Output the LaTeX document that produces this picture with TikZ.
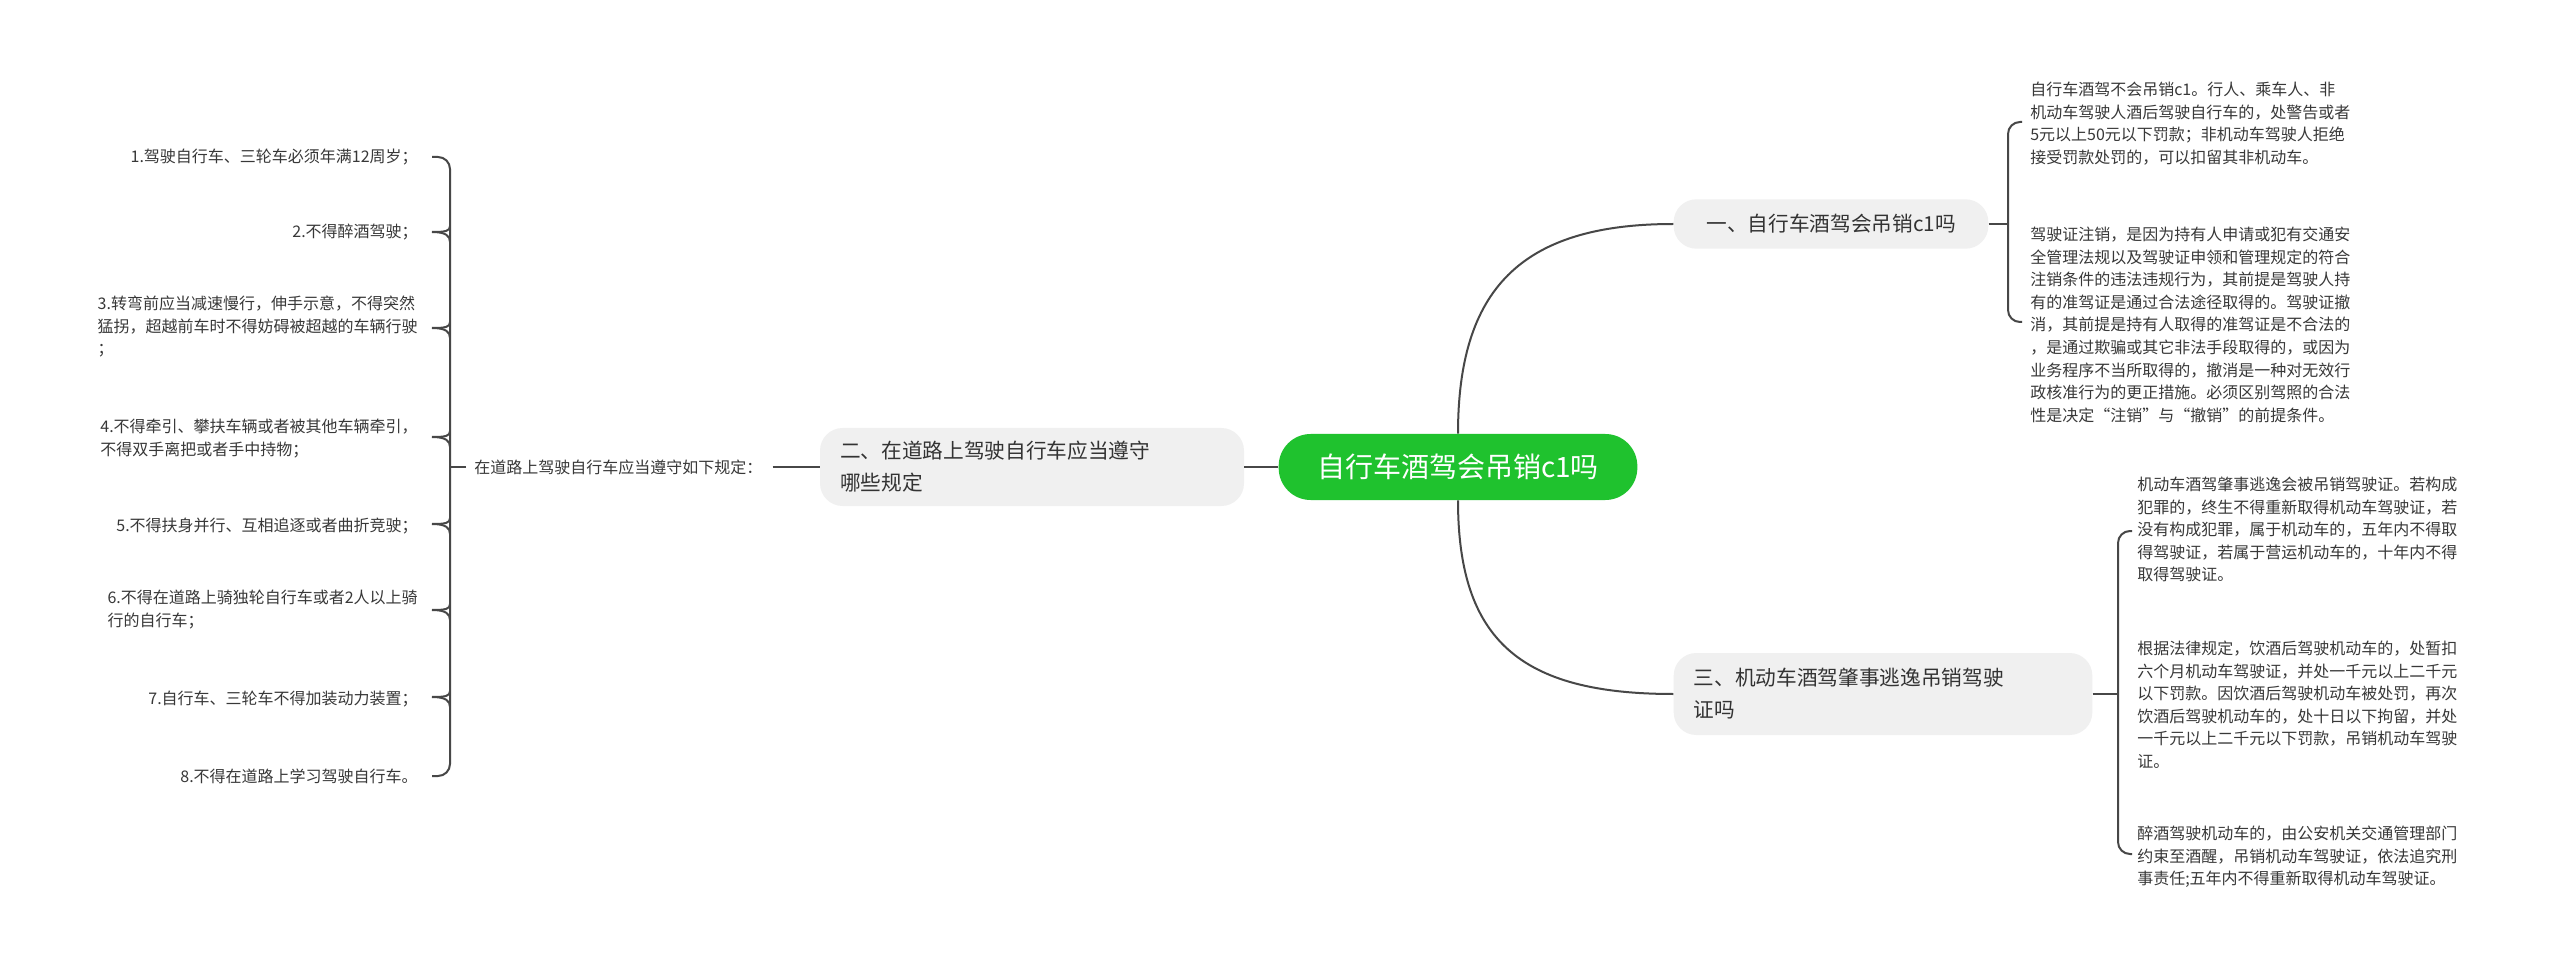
\documentclass[tikz,border=0pt]{standalone}
\usepackage{fontspec}
\setmainfont{Noto Sans CJK SC}
\begin{document}
\begin{tikzpicture}[x=0.75pt,y=-0.75pt,
  ln/.style={draw=black!72,line width=1.5pt},
  br/.style={ln,rounded corners=9pt},
  leaf/.style={inner sep=0pt,font=\fontsize{12}{16.9}\selectfont,text=black!78},
  leafl/.style={leaf,anchor=north west,align=left},
  leafr/.style={leaf,anchor=north east,align=right},
  sub/.style={fill=black!6,rounded corners=17pt,inner sep=0pt,font=\fontsize{15.5}{24}\selectfont,text=black!80,align=left}]
\useasboundingbox (0,0) rectangle (2560,973);
\fill[white] (0,0) rectangle (2560,973);
% central
\node[fill={rgb,255:red,31;green,194;blue,46},rounded corners=24pt,minimum width=269pt,minimum height=49.5pt,text=white,font=\fontsize{21}{24}\selectfont] (c) at (1458,467) {自行车酒驾会吊销c1吗};
% branches
\node[sub,minimum width=236pt,minimum height=37pt] (b1) at (1831,224) {一、自行车酒驾会吊销c1吗};
\node[sub,minimum width=318pt,minimum height=58.5pt,text width=288pt] (b2) at (1032,467) {二、在道路上驾驶自行车应当遵守\\哪些规定};
\node[sub,minimum width=314pt,minimum height=61.5pt,text width=284pt] (b3) at (1883,694) {三、机动车酒驾肇事逃逸吊销驾驶\\证吗};
\draw[ln] (c.north) .. controls (1458,290) and (1520,224) .. (b1.west);
\draw[ln] (c.south) .. controls (1458,640) and (1520,694) .. (b3.west);
\draw[ln] (c.west) -- (b2.east);
% branch 1 leaves
\coordinate (k1) at (2008,224);
\draw[ln] (b1.east) -- (k1);
\draw[br] (2022,122) -- (2008,122) -- (2008,322) -- (2022,322);
\node[leafl] (t1a) at (2030,82) {自行车酒驾不会吊销c1。行人、乘车人、非\\机动车驾驶人酒后驾驶自行车的，处警告或者\\5元以上50元以下罚款；非机动车驾驶人拒绝\\接受罚款处罚的，可以扣留其非机动车。};
\node[leafl] (t1b) at (2030,227) {驾驶证注销，是因为持有人申请或犯有交通安\\全管理法规以及驾驶证申领和管理规定的符合\\注销条件的违法违规行为，其前提是驾驶人持\\有的准驾证是通过合法途径取得的。驾驶证撤\\消，其前提是持有人取得的准驾证是不合法的\\，是通过欺骗或其它非法手段取得的，或因为\\业务程序不当所取得的，撤消是一种对无效行\\政核准行为的更正措施。必须区别驾照的合法\\性是决定“注销”与“撤销”的前提条件。};
% branch 3 leaves
\coordinate (k3) at (2118,694);
\draw[ln] (b3.east) -- (k3);
\draw[br] (2132,531) -- (2118,531) -- (2118,854) -- (2132,854);
\node[leafl] (t3a) at (2137,477) {机动车酒驾肇事逃逸会被吊销驾驶证。若构成\\犯罪的，终生不得重新取得机动车驾驶证，若\\没有构成犯罪，属于机动车的，五年内不得取\\得驾驶证，若属于营运机动车的，十年内不得\\取得驾驶证。};
\node[leafl] (t3b) at (2137,641) {根据法律规定，饮酒后驾驶机动车的，处暂扣\\六个月机动车驾驶证，并处一千元以上二千元\\以下罚款。因饮酒后驾驶机动车被处罚，再次\\饮酒后驾驶机动车的，处十日以下拘留，并处\\一千元以上二千元以下罚款，吊销机动车驾驶\\证。};
\node[leafl] (t3c) at (2137,826) {醉酒驾驶机动车的，由公安机关交通管理部门\\约束至酒醒，吊销机动车驾驶证，依法追究刑\\事责任;五年内不得重新取得机动车驾驶证。};
% branch 2
\node[leaf,anchor=west] (lab) at (474,467) {在道路上驾驶自行车应当遵守如下规定：};
\draw[ln] (lab.east) ++(10,0) coordinate (k2a) -- (b2.west);
\draw[ln] (lab.west) ++(-8,0) coordinate (k2b) -- (450,467);
\draw[br] (432,157) -- (450,157) -- (450,776) -- (432,776);
\foreach \y in {234,330,439,526,612,699}{
  \draw[ln] (432,\y-2) .. controls (446,\y-2) and (450,\y+2) .. (450,\y+8);
  \draw[ln] (450,\y-8) .. controls (450,\y-3) and (446,\y-2) .. (432,\y-2);
}
\node[leaf,anchor=east] (i1) at (418,157) {1.驾驶自行车、三轮车必须年满12周岁；};
\node[leaf,anchor=east] (i2) at (418,232) {2.不得醉酒驾驶；};
\node[leafr,align=left] (i3) at (418,296) {3.转弯前应当减速慢行，伸手示意，不得突然\\猛拐，超越前车时不得妨碍被超越的车辆行驶\\；};
\node[leafr,align=left] (i4) at (418,419) {4.不得牵引、攀扶车辆或者被其他车辆牵引，\\不得双手离把或者手中持物；};
\node[leaf,anchor=east] (i5) at (418,526) {5.不得扶身并行、互相追逐或者曲折竞驶；};
\node[leafr,align=left] (i6) at (418,590) {6.不得在道路上骑独轮自行车或者2人以上骑\\行的自行车；};
\node[leaf,anchor=east] (i7) at (418,699) {7.自行车、三轮车不得加装动力装置；};
\node[leaf,anchor=east] (i8) at (418,776) {8.不得在道路上学习驾驶自行车。};
\end{tikzpicture}
\end{document}
